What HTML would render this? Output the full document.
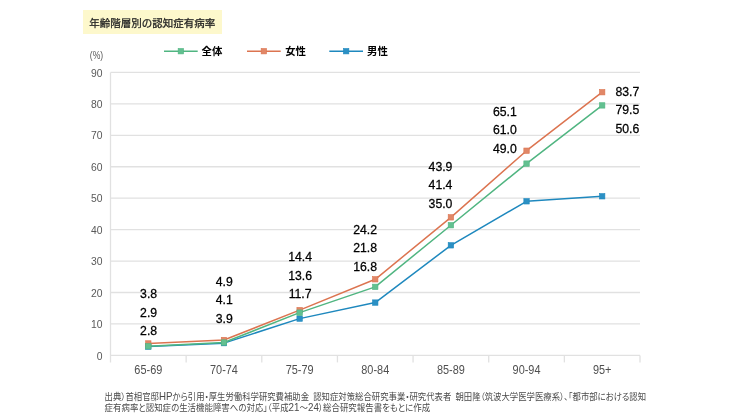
<!DOCTYPE html>
<html lang="ja">
<head>
<meta charset="utf-8">
<title>年齢階層別の認知症有病率</title>
<style>
html,body{margin:0;padding:0;background:#fff;}
body{width:750px;height:420px;overflow:hidden;position:relative;font-family:"Liberation Sans", "Noto Sans CJK JP", sans-serif;}
svg{position:absolute;left:0;top:0;display:block;}
svg text{font-family:"Liberation Sans", "Noto Sans CJK JP", sans-serif;}
.ax{fill:#595959;font-size:11.5px;}
.dl{fill:#000;font-size:11.9px;stroke:#000;stroke-width:0.25px;}
.lg{fill:#000;font-size:10.4px;font-weight:bold;}
.ttl{fill:#222;font-size:10.5px;stroke:#222;stroke-width:0.25px;}
.src{fill:#4a4a4a;font-size:9.3px;font-feature-settings:"palt";white-space:pre;}
.src tspan{font-size:10.8px;}
</style>
</head>
<body>
<svg width="750" height="420" viewBox="0 0 750 420">
<rect x="0" y="0" width="750" height="420" fill="#ffffff"/>

<rect x="83" y="10" width="139" height="24" fill="#fdf8cc"/>
<text class="ttl" x="89.2" y="26.5">年齢階層別の認知症有病率</text>
<line x1="110.5" y1="355.40" x2="640.0" y2="355.40" stroke="#e1e1e1" stroke-width="1.3"/>
<text class="ax" transform="translate(102.6,359.60) scale(0.9,1)" text-anchor="end">0</text>
<line x1="110.5" y1="323.96" x2="640.0" y2="323.96" stroke="#e1e1e1" stroke-width="1.3"/>
<text class="ax" transform="translate(102.6,328.16) scale(0.9,1)" text-anchor="end">10</text>
<line x1="110.5" y1="292.51" x2="640.0" y2="292.51" stroke="#e1e1e1" stroke-width="1.3"/>
<text class="ax" transform="translate(102.6,296.71) scale(0.9,1)" text-anchor="end">20</text>
<line x1="110.5" y1="261.07" x2="640.0" y2="261.07" stroke="#e1e1e1" stroke-width="1.3"/>
<text class="ax" transform="translate(102.6,265.27) scale(0.9,1)" text-anchor="end">30</text>
<line x1="110.5" y1="229.62" x2="640.0" y2="229.62" stroke="#e1e1e1" stroke-width="1.3"/>
<text class="ax" transform="translate(102.6,233.82) scale(0.9,1)" text-anchor="end">40</text>
<line x1="110.5" y1="198.18" x2="640.0" y2="198.18" stroke="#e1e1e1" stroke-width="1.3"/>
<text class="ax" transform="translate(102.6,202.38) scale(0.9,1)" text-anchor="end">50</text>
<line x1="110.5" y1="166.73" x2="640.0" y2="166.73" stroke="#e1e1e1" stroke-width="1.3"/>
<text class="ax" transform="translate(102.6,170.93) scale(0.9,1)" text-anchor="end">60</text>
<line x1="110.5" y1="135.29" x2="640.0" y2="135.29" stroke="#e1e1e1" stroke-width="1.3"/>
<text class="ax" transform="translate(102.6,139.49) scale(0.9,1)" text-anchor="end">70</text>
<line x1="110.5" y1="103.84" x2="640.0" y2="103.84" stroke="#e1e1e1" stroke-width="1.3"/>
<text class="ax" transform="translate(102.6,108.04) scale(0.9,1)" text-anchor="end">80</text>
<line x1="110.5" y1="72.40" x2="640.0" y2="72.40" stroke="#e1e1e1" stroke-width="1.3"/>
<text class="ax" transform="translate(102.6,76.60) scale(0.9,1)" text-anchor="end">90</text>
<line x1="110.5" y1="72.40" x2="110.5" y2="362.40" stroke="#e1e1e1" stroke-width="1.3"/>
<line x1="186.14" y1="355.40" x2="186.14" y2="362.40" stroke="#e1e1e1" stroke-width="1.3"/>
<line x1="261.79" y1="355.40" x2="261.79" y2="362.40" stroke="#e1e1e1" stroke-width="1.3"/>
<line x1="337.43" y1="355.40" x2="337.43" y2="362.40" stroke="#e1e1e1" stroke-width="1.3"/>
<line x1="413.07" y1="355.40" x2="413.07" y2="362.40" stroke="#e1e1e1" stroke-width="1.3"/>
<line x1="488.71" y1="355.40" x2="488.71" y2="362.40" stroke="#e1e1e1" stroke-width="1.3"/>
<line x1="564.36" y1="355.40" x2="564.36" y2="362.40" stroke="#e1e1e1" stroke-width="1.3"/>
<line x1="640.00" y1="355.40" x2="640.00" y2="362.40" stroke="#e1e1e1" stroke-width="1.3"/>
<text class="ax" transform="translate(89.8,59.2) scale(0.86,1)" style="font-size:10px">(%)</text>
<text class="ax" transform="translate(148.32,374) scale(0.91,1)" style="font-size:12px;fill:#505050" text-anchor="middle">65-69</text>
<text class="ax" transform="translate(223.96,374) scale(0.91,1)" style="font-size:12px;fill:#505050" text-anchor="middle">70-74</text>
<text class="ax" transform="translate(299.61,374) scale(0.91,1)" style="font-size:12px;fill:#505050" text-anchor="middle">75-79</text>
<text class="ax" transform="translate(375.25,374) scale(0.91,1)" style="font-size:12px;fill:#505050" text-anchor="middle">80-84</text>
<text class="ax" transform="translate(450.89,374) scale(0.91,1)" style="font-size:12px;fill:#505050" text-anchor="middle">85-89</text>
<text class="ax" transform="translate(526.54,374) scale(0.91,1)" style="font-size:12px;fill:#505050" text-anchor="middle">90-94</text>
<text class="ax" transform="translate(602.18,374) scale(0.91,1)" style="font-size:12px;fill:#505050" text-anchor="middle">95+</text>
<polyline points="148.32,346.60 223.96,343.14 299.61,318.61 375.25,302.57 450.89,245.34 526.54,201.32 602.18,196.29" fill="none" stroke="#1e88be" stroke-width="1.5" stroke-linejoin="round"/>
<rect x="145.62" y="343.90" width="5.4" height="5.4" fill="#2b90c4" stroke="#1e88be" stroke-width="0.6"/>
<rect x="221.26" y="340.44" width="5.4" height="5.4" fill="#2b90c4" stroke="#1e88be" stroke-width="0.6"/>
<rect x="296.91" y="315.91" width="5.4" height="5.4" fill="#2b90c4" stroke="#1e88be" stroke-width="0.6"/>
<rect x="372.55" y="299.87" width="5.4" height="5.4" fill="#2b90c4" stroke="#1e88be" stroke-width="0.6"/>
<rect x="448.19" y="242.64" width="5.4" height="5.4" fill="#2b90c4" stroke="#1e88be" stroke-width="0.6"/>
<rect x="523.84" y="198.62" width="5.4" height="5.4" fill="#2b90c4" stroke="#1e88be" stroke-width="0.6"/>
<rect x="599.48" y="193.59" width="5.4" height="5.4" fill="#2b90c4" stroke="#1e88be" stroke-width="0.6"/>
<polyline points="148.32,343.45 223.96,339.99 299.61,310.12 375.25,279.30 450.89,217.36 526.54,150.70 602.18,92.21" fill="none" stroke="#dc7450" stroke-width="1.5" stroke-linejoin="round"/>
<rect x="145.62" y="340.75" width="5.4" height="5.4" fill="#e18767" stroke="#dc7450" stroke-width="0.6"/>
<rect x="221.26" y="337.29" width="5.4" height="5.4" fill="#e18767" stroke="#dc7450" stroke-width="0.6"/>
<rect x="296.91" y="307.42" width="5.4" height="5.4" fill="#e18767" stroke="#dc7450" stroke-width="0.6"/>
<rect x="372.55" y="276.60" width="5.4" height="5.4" fill="#e18767" stroke="#dc7450" stroke-width="0.6"/>
<rect x="448.19" y="214.66" width="5.4" height="5.4" fill="#e18767" stroke="#dc7450" stroke-width="0.6"/>
<rect x="523.84" y="148.00" width="5.4" height="5.4" fill="#e18767" stroke="#dc7450" stroke-width="0.6"/>
<rect x="599.48" y="89.51" width="5.4" height="5.4" fill="#e18767" stroke="#dc7450" stroke-width="0.6"/>
<polyline points="148.32,346.28 223.96,342.51 299.61,312.64 375.25,286.85 450.89,225.22 526.54,163.59 602.18,105.42" fill="none" stroke="#50b581" stroke-width="1.5" stroke-linejoin="round"/>
<rect x="145.62" y="343.58" width="5.4" height="5.4" fill="#62c090" stroke="#50b581" stroke-width="0.6"/>
<rect x="221.26" y="339.81" width="5.4" height="5.4" fill="#62c090" stroke="#50b581" stroke-width="0.6"/>
<rect x="296.91" y="309.94" width="5.4" height="5.4" fill="#62c090" stroke="#50b581" stroke-width="0.6"/>
<rect x="372.55" y="284.15" width="5.4" height="5.4" fill="#62c090" stroke="#50b581" stroke-width="0.6"/>
<rect x="448.19" y="222.52" width="5.4" height="5.4" fill="#62c090" stroke="#50b581" stroke-width="0.6"/>
<rect x="523.84" y="160.89" width="5.4" height="5.4" fill="#62c090" stroke="#50b581" stroke-width="0.6"/>
<rect x="599.48" y="102.72" width="5.4" height="5.4" fill="#62c090" stroke="#50b581" stroke-width="0.6"/>
<line x1="164.0" y1="51.2" x2="197.7" y2="51.2" stroke="#50b581" stroke-width="1.5"/>
<rect x="178.15" y="48.5" width="5.4" height="5.4" fill="#62c090" stroke="#50b581" stroke-width="0.6"/>
<text class="lg" x="201.5" y="55.3">全体</text>
<line x1="247.0" y1="51.2" x2="280.7" y2="51.2" stroke="#dc7450" stroke-width="1.5"/>
<rect x="261.15" y="48.5" width="5.4" height="5.4" fill="#e18767" stroke="#dc7450" stroke-width="0.6"/>
<text class="lg" x="285.2" y="55.3">女性</text>
<line x1="329.3" y1="51.2" x2="363.0" y2="51.2" stroke="#1e88be" stroke-width="1.5"/>
<rect x="343.45" y="48.5" width="5.4" height="5.4" fill="#2b90c4" stroke="#1e88be" stroke-width="0.6"/>
<text class="lg" x="367.0" y="55.3">男性</text>
<text class="dl" transform="translate(148.6,298.20) scale(1.03,1)" text-anchor="middle">3.8</text>
<text class="dl" transform="translate(148.6,316.60) scale(1.03,1)" text-anchor="middle">2.9</text>
<text class="dl" transform="translate(148.6,335.00) scale(1.03,1)" text-anchor="middle">2.8</text>
<text class="dl" transform="translate(224.3,285.70) scale(1.03,1)" text-anchor="middle">4.9</text>
<text class="dl" transform="translate(224.3,304.10) scale(1.03,1)" text-anchor="middle">4.1</text>
<text class="dl" transform="translate(224.3,322.50) scale(1.03,1)" text-anchor="middle">3.9</text>
<text class="dl" transform="translate(300.1,261.10) scale(1.03,1)" text-anchor="middle">14.4</text>
<text class="dl" transform="translate(300.1,279.50) scale(1.03,1)" text-anchor="middle">13.6</text>
<text class="dl" transform="translate(300.1,297.90) scale(1.03,1)" text-anchor="middle">11.7</text>
<text class="dl" transform="translate(365.1,233.90) scale(1.03,1)" text-anchor="middle">24.2</text>
<text class="dl" transform="translate(365.1,252.30) scale(1.03,1)" text-anchor="middle">21.8</text>
<text class="dl" transform="translate(365.1,270.70) scale(1.03,1)" text-anchor="middle">16.8</text>
<text class="dl" transform="translate(440.5,171.00) scale(1.03,1)" text-anchor="middle">43.9</text>
<text class="dl" transform="translate(440.5,189.40) scale(1.03,1)" text-anchor="middle">41.4</text>
<text class="dl" transform="translate(440.5,207.80) scale(1.03,1)" text-anchor="middle">35.0</text>
<text class="dl" transform="translate(504.8,115.70) scale(1.03,1)" text-anchor="middle">65.1</text>
<text class="dl" transform="translate(504.8,134.10) scale(1.03,1)" text-anchor="middle">61.0</text>
<text class="dl" transform="translate(504.8,152.50) scale(1.03,1)" text-anchor="middle">49.0</text>
<text class="dl" transform="translate(627.3,96.00) scale(1.03,1)" text-anchor="middle">83.7</text>
<text class="dl" transform="translate(627.3,114.40) scale(1.03,1)" text-anchor="middle">79.5</text>
<text class="dl" transform="translate(627.3,132.80) scale(1.03,1)" text-anchor="middle">50.6</text>
<text class="src" x="104.6" y="399.5" textLength="541.5" lengthAdjust="spacingAndGlyphs">出典）首相官邸<tspan>HP</tspan>から引用・厚生労働科学研究費補助金 認知症対策総合研究事業・研究代表者 朝田隆（筑波大学医学医療系）、「都市部における認知</text>
<text class="src" x="104.6" y="410.5" textLength="325.5" lengthAdjust="spacingAndGlyphs">症有病率と認知症の生活機能障害への対応」（平成<tspan>21</tspan>～<tspan>24</tspan>）総合研究報告書をもとに作成</text>
</svg>
</body>
</html>
